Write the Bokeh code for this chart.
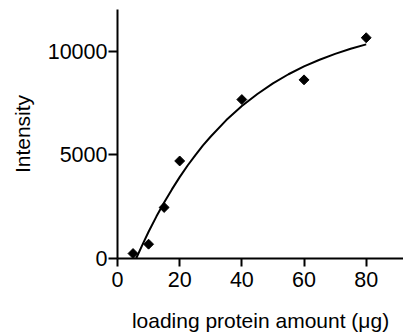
import numpy as np
from bokeh.plotting import figure
from bokeh.models import Range1d, FixedTicker
from bokeh.embed import file_html
from bokeh.resources import INLINE

# Measured data points
amount_ug = [5, 10, 15, 20, 40, 60, 80]
intensity = [240, 690, 2460, 4700, 7660, 8610, 10640]

# Fitted curve
curve_x = [6, 8, 10, 12.5, 15, 17.5, 20, 22.5, 25, 27.5, 30, 35, 40, 45, 50, 55, 60, 65, 70, 75, 80]
curve_y = [0, 660, 1290, 2020, 2700, 3330, 3920, 4470, 4970, 5450, 5880, 6670, 7350, 7930, 8440, 8880, 9260, 9580, 9860, 10110, 10320]

x_ticks = [0, 20, 40, 60, 80]
y_ticks = [0, 5000, 10000]

FONT = "Liberation Sans"

p = figure(width=403, height=333, output_backend="svg", toolbar_location=None,
           x_range=Range1d(0, 92), y_range=Range1d(0, 12000))
p.frame_width = 286
p.frame_height = 249
p.min_border_left = 117
p.min_border_right = 0
p.min_border_top = 9
p.min_border_bottom = 75
p.outline_line_color = None
p.xgrid.visible = False
p.ygrid.visible = False
p.background_fill_color = "white"
p.border_fill_color = "white"

p.line(curve_x, curve_y, line_color="black", line_width=2)
p.scatter(amount_ug, intensity, marker="square", angle=np.pi / 4, size=7,
          fill_color="black", line_color="black")

for ax in (p.xaxis[0], p.yaxis[0]):
    ax.axis_line_color = "black"
    ax.axis_line_width = 2
    ax.major_tick_line_color = "black"
    ax.major_tick_line_width = 2
    ax.major_tick_in = 0
    ax.minor_tick_line_color = None
    ax.major_label_text_font = FONT
    ax.major_label_text_font_size = "21.5px"
    ax.major_label_text_color = "black"
    ax.axis_label_text_font = FONT
    ax.axis_label_text_font_size = "21px"
    ax.axis_label_text_font_style = "normal"
    ax.axis_label_text_color = "black"

p.xaxis[0].ticker = FixedTicker(ticks=x_ticks)
p.yaxis[0].ticker = FixedTicker(ticks=y_ticks)
p.xaxis[0].major_tick_out = 8
p.yaxis[0].major_tick_out = 9
p.xaxis[0].major_label_standoff = 5
p.yaxis[0].major_label_standoff = 1
p.xaxis[0].axis_label = "loading protein amount (\u03bcg)"
p.yaxis[0].axis_label = "Intensity"
p.xaxis[0].axis_label_standoff = 19
p.yaxis[0].axis_label_standoff = 11

open("out.html", "w").write(file_html(p, INLINE))
